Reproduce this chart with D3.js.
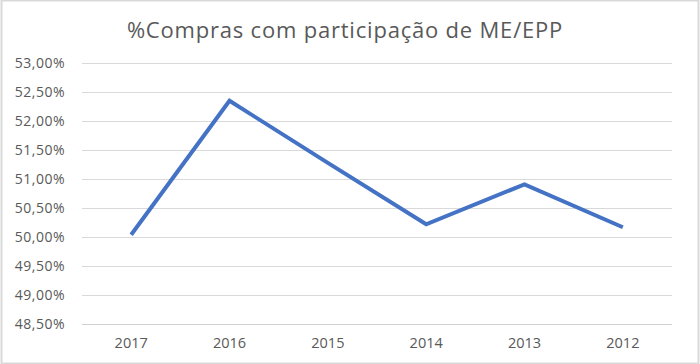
<!DOCTYPE html>
<html>
<head>
<meta charset="utf-8">
<script src="https://cdn.jsdelivr.net/npm/d3@7"></script>
<style>
  body { margin: 0; background: #fff; }
  svg { display: block; }
</style>
</head>
<body>
<svg width="700" height="364"></svg>
<script>
const anos = ["2017", "2016", "2015", "2014", "2013", "2012"];
const percentuais = [50.03, 52.34, 51.27, 50.21, 50.90, 50.16];
const ticksY = [48.5, 49, 49.5, 50, 50.5, 51, 51.5, 52, 52.5, 53];
const titulo = "%Compras com participação de ME/EPP";

function drawGraph() {
  const svg = d3.select("svg");
  svg.selectAll("*").remove();

  const attr_area = { width: 700, height: 364, left: 82, right: 672, top: 62.5, bottom: 323.5 };

  svg.append("rect")
     .attr("x", 1.5).attr("y", 0.5)
     .attr("width", attr_area.width - 3).attr("height", attr_area.height - 1)
     .style("fill", "#fff").style("stroke", "#d9d9d9").style("stroke-width", 2);

  svg.append("text")
     .attr("x", 345).attr("y", 37.5)
     .attr("text-anchor", "middle")
     .style("font-family", "'Open Sans', sans-serif")
     .style("font-size", "22px")
     .style("letter-spacing", "0.8px")
     .style("fill", "#595959")
     .text(titulo);

  const scaleX = d3.scaleBand()
                  .domain(anos)
                  .range([attr_area.left, attr_area.right]);
  const scaleY = d3.scaleLinear()
                  .domain([48.5, 53])
                  .range([attr_area.bottom, attr_area.top]);

  // grade horizontal
  svg.append("g").selectAll("line")
     .data(ticksY)
     .enter()
     .append("line")
     .attr("x1", attr_area.left).attr("x2", attr_area.right)
     .attr("y1", d => Math.round(scaleY(d)) + 0.5)
     .attr("y2", d => Math.round(scaleY(d)) + 0.5)
     .style("stroke", d => d === 48.5 ? "#d0d0d0" : "#d9d9d9")
     .style("stroke-width", 1);

  const fmt = d => d.toFixed(2).replace(".", ",") + "%";
  const axisY = d3.axisLeft(scaleY).tickValues(ticksY).tickFormat(fmt).tickSize(0).tickPadding(0);
  const gY = svg.append("g")
     .attr("transform", `translate(65, 0.5)`)
     .call(axisY);
  gY.select(".domain").remove();
  gY.selectAll("text")
     .style("font-family", "'Open Sans', sans-serif")
     .style("font-size", "14px")
     .style("letter-spacing", "0.5px")
     .style("fill", "#595959");

  const axisX = d3.axisBottom(scaleX).tickSize(0).tickPadding(0);
  const gX = svg.append("g")
     .attr("transform", `translate(0, 0)`)
     .call(axisX);
  gX.select(".domain").remove();
  gX.selectAll("text")
     .attr("y", 348)
     .attr("dy", null)
     .style("font-family", "'Open Sans', sans-serif")
     .style("font-size", "14.5px")
     .style("fill", "#595959");

  const line = d3.line()
     .x((d, i) => scaleX(anos[i]) + scaleX.bandwidth() / 2)
     .y(d => scaleY(d));

  svg.append("path")
     .datum(percentuais)
     .attr("d", line)
     .style("fill", "none")
     .style("stroke", "#4472c4")
     .style("stroke-width", 4)
     .style("stroke-linejoin", "miter")
     .style("stroke-linecap", "butt");
}

drawGraph();
</script>
</body>
</html>
